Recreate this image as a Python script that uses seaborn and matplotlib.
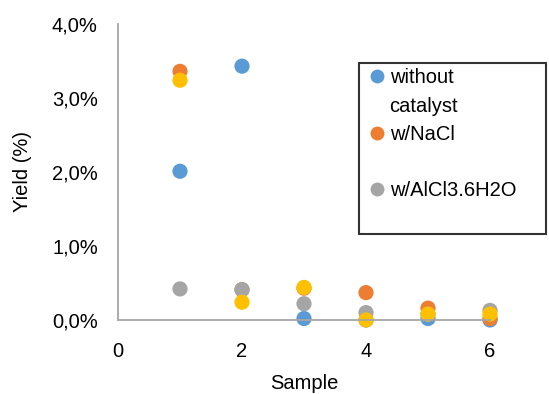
import matplotlib
matplotlib.use("Agg")
import matplotlib.pyplot as plt
import seaborn as sns
import pandas as pd
from matplotlib.lines import Line2D
from matplotlib.ticker import FuncFormatter

samples = [1, 2, 3, 4, 5, 6]
without_catalyst = [2.01, 3.43, 0.02, 0.00, 0.02, 0.00]
w_nacl = [3.36, 0.41, 0.43, 0.37, 0.16, 0.02]
w_alcl3 = [0.42, 0.41, 0.22, 0.10, 0.08, 0.13]
series4 = [3.24, 0.24, 0.44, 0.00, 0.08, 0.08]

series_names = ["without catalyst", "w/NaCl", "w/AlCl3.6H2O", "series4"]
colors = ["#5B9BD5", "#ED7D31", "#A5A5A5", "#FFC000"]
x_ticks = [0, 2, 4, 6]
y_ticks = [0.0, 1.0, 2.0, 3.0, 4.0]

sns.set_style("white")
plt.rcParams["font.family"] = ["Liberation Sans", "DejaVu Sans"]
plt.rcParams["text.color"] = "black"
plt.rcParams["axes.labelcolor"] = "black"
FS = 14.5

df = pd.DataFrame({
    "Sample": samples * 4,
    "Yield": without_catalyst + w_nacl + w_alcl3 + series4,
    "Series": sum([[n] * len(samples) for n in series_names], []),
})

fig = plt.figure(figsize=(5.49, 3.94), dpi=100)
ax = fig.add_axes([118 / 549, 1 - 320 / 394, (490 - 118) / 549, (320 - 24) / 394])

sns.scatterplot(data=df, x="Sample", y="Yield", hue="Series", hue_order=series_names,
                palette=colors, s=120, linewidth=0, legend=False, ax=ax, clip_on=False)

ax.set_xlim(0, 6)
ax.set_ylim(0, 4.0)
ax.set_xticks(x_ticks)
ax.set_yticks(y_ticks)
ax.yaxis.set_major_formatter(FuncFormatter(lambda v, p: f"{v:.1f}".replace(".", ",") + "%"))

for s in ["top", "right"]:
    ax.spines[s].set_visible(False)
for s in ["left", "bottom"]:
    ax.spines[s].set_color("#A6A6A6")
    ax.spines[s].set_linewidth(1.3)
ax.tick_params(axis="both", which="both", direction="out", length=5, width=1.3,
               color="#A6A6A6", labelsize=FS, labelcolor="black")
ax.tick_params(axis="y", pad=9.5)
ax.tick_params(axis="x", pad=11)

ax.set_xlabel("Sample", fontsize=FS, color="black")
ax.set_ylabel("Yield (%)", fontsize=FS, color="black")
ax.xaxis.set_label_coords(0.5, -0.182)
ax.xaxis.label.set_va("top")
ax.yaxis.set_label_coords(-0.232, 0.5)

blank = Line2D([], [], linestyle="none", marker="")
def dot(c):
    return Line2D([], [], linestyle="none", marker="o", markersize=10, color=c, markeredgewidth=0)

handles = [dot(colors[0]), blank, dot(colors[1]), blank, dot(colors[2]), blank]
labels = ["without", "catalyst", "w/NaCl", "", "w/AlCl3.6H2O", ""]
x0, x1 = 359 / 549, 546 / 549
ytop = 1 - 63 / 394
leg = fig.legend(handles, labels, loc="upper left",
                 bbox_to_anchor=(x0, ytop - 0.5, x1 - x0, 0.5), mode="expand",
                 frameon=True, fancybox=False, fontsize=FS, handlelength=1.2,
                 handletextpad=0.05, labelspacing=0.46, borderpad=0.27, borderaxespad=0,
                 labelcolor="black")
fr = leg.get_frame()
fr.set_edgecolor("black")
fr.set_linewidth(1.5)

fig.savefig("out.png", dpi=100)
